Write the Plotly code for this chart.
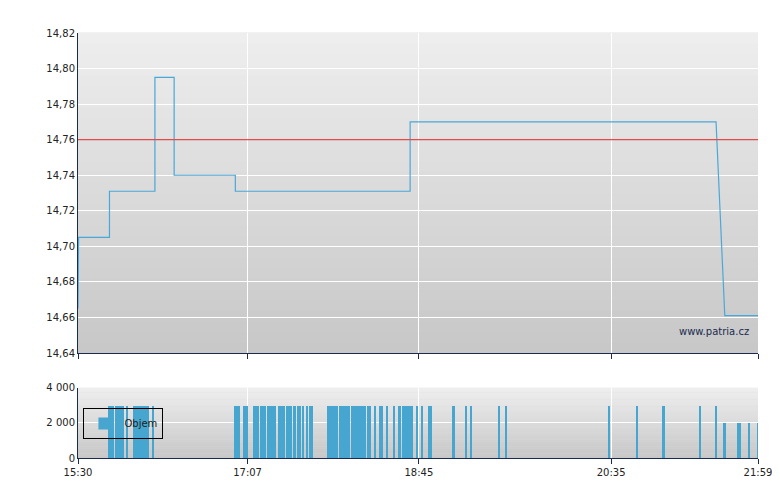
import plotly.graph_objects as go
import pandas as pd

day = "2024-01-02 "
price_times = ["15:30", "15:30:20", "15:48", "15:48", "16:14", "16:14", "16:25", "16:25",
               "17:00", "17:00", "18:40", "18:40", "21:35", "21:40", "21:59"]
price_vals = [14.665, 14.705, 14.705, 14.731, 14.731, 14.795, 14.795, 14.74,
              14.74, 14.731, 14.731, 14.77, 14.77, 14.661, 14.661]
ref_price = 14.76

# minutes after 15:30 with a trade
vol_3000 = [18, 19, 20, 22, 23, 24, 25, 26, 28, 32, 33, 34, 35, 36, 37, 38, 39, 40, 43,
            90, 91, 92, 95, 96, 97, 101, 102, 103, 105, 106, 107, 109, 110, 111, 112, 113,
            115, 116, 117, 118, 120, 121, 122, 124, 126, 127, 129, 131, 133, 134,
            143, 144, 145, 146, 147, 148, 150, 151, 152, 153, 154, 155,
            157, 158, 159, 160, 161, 162, 163, 164, 166, 167, 170, 173, 174, 177, 181, 184,
            186, 187, 188, 189, 190, 191, 194, 197, 201, 202, 215, 222, 225, 241, 245,
            304, 320, 335, 356, 365]
vol_2000 = [370, 378, 379, 384, 389]

start = pd.Timestamp(day + "15:30")
vol_min = vol_3000 + vol_2000
vol_t = [start + pd.Timedelta(minutes=m) for m in vol_min]
vol_v = [3000] * len(vol_3000) + [2000] * len(vol_2000)

tick_labels = ["15:30", "17:07", "18:45", "20:35", "21:59"]
tick_vals = [pd.Timestamp(day + t) for t in tick_labels]
x_range = [tick_vals[0], tick_vals[-1]]

fig = go.Figure()
fig.add_trace(go.Scatter(x=[pd.Timestamp(day + t) for t in price_times], y=price_vals,
                         mode="lines", line=dict(color="#4aa8d8", width=1.2),
                         showlegend=False, xaxis="x", yaxis="y"))
fig.add_trace(go.Scatter(x=x_range, y=[ref_price, ref_price], mode="lines",
                         line=dict(color="#e84848", width=1.2), showlegend=False))
fig.add_trace(go.Bar(x=vol_t, y=vol_v, name="Objem", marker_color="#47a6cf",
                     marker_line_width=0, width=60000 * 1.05, xaxis="x2", yaxis="y2"))

# vertical gradient backgrounds
shapes = []
n = 30
for yref, xr in [("y domain", "x domain"), ("y2 domain", "x2 domain")]:
    for i in range(n):
        c = int(200 + (238 - 200) * i / (n - 1))
        shapes.append(dict(type="rect", xref=xr, yref=yref, x0=0, x1=1,
                           y0=i / n, y1=(i + 1) / n + 0.002, line_width=0,
                           fillcolor=f"rgb({c},{c},{c})", layer="below"))

axis_col = "#1a2a50"
fig.update_layout(
    width=780, height=490, margin=dict(l=70, r=30, t=25, b=40),
    paper_bgcolor="white", plot_bgcolor="#dddddd", separators=", ",
    font=dict(family="DejaVu Sans", size=10, color="#222"),
    shapes=shapes, bargap=0,
    xaxis=dict(domain=[0, 1], anchor="y", range=x_range, tickvals=tick_vals,
               showticklabels=False, showgrid=True, gridcolor="white", gridwidth=1,
               showline=True, linecolor=axis_col, ticks="outside", ticklen=5,
               tickcolor=axis_col, zeroline=False, automargin=False),
    yaxis=dict(domain=[0.247, 1], range=[14.64, 14.82], dtick=0.02, tickformat=".2f",
               showgrid=True, gridcolor="white", showline=True, linecolor=axis_col,
               ticks="", zeroline=False, automargin=False),
    xaxis2=dict(domain=[0, 1], anchor="y2", range=x_range, tickvals=tick_vals,
                ticktext=tick_labels, showgrid=True, gridcolor="white",
                showline=True, linecolor=axis_col, ticks="outside", ticklen=5,
                tickcolor=axis_col, zeroline=False, automargin=False),
    yaxis2=dict(domain=[0, 0.165], range=[0, 4000], dtick=2000, tickformat=",d",
                showgrid=True, gridcolor="white", showline=True, linecolor=axis_col,
                zeroline=False, automargin=False),
    legend=dict(x=0.008, y=0.045, xanchor="left", yanchor="bottom",
                bgcolor="rgba(0,0,0,0)", bordercolor="black", borderwidth=1,
                itemwidth=30, font=dict(size=10)),
    annotations=[dict(text="www.patria.cz", xref="x domain", yref="y domain",
                      x=0.99, y=0.045, showarrow=False, xanchor="right",
                      font=dict(size=10, color="#1a2a50"))],
)
fig.write_html("out.html")
